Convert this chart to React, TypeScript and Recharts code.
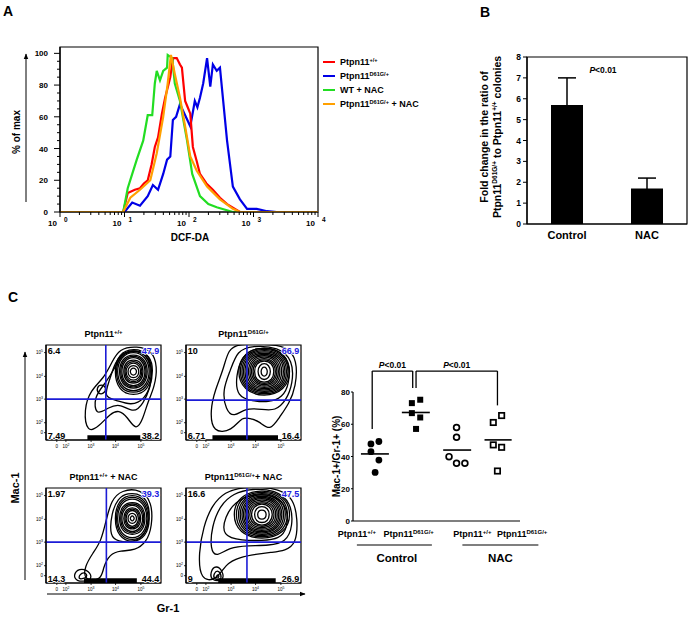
import React from 'react';
import {
  LineChart, Line, XAxis, YAxis, BarChart, Bar, ErrorBar, ScatterChart, Scatter, ComposedChart,
  ReferenceLine, ReferenceArea,
} from 'recharts';

const FONT = '"Liberation Sans", Arial, Helvetica, sans-serif';

// ---------------- Panel A: DCF-DA histogram (x = log10 intensity, y = % of max) ----------------
const histWT: [number, number][] = [
  [0, 0], [0.98, 0], [1.05, 12], [1.16, 14], [1.24, 15], [1.3, 18], [1.36, 20], [1.42, 30], [1.47, 41],
  [1.52, 47], [1.58, 62], [1.63, 72], [1.68, 80], [1.71, 85], [1.75, 97], [1.81, 97], [1.86, 93], [1.89, 91],
  [1.94, 70], [1.98, 66], [2.02, 62], [2.06, 41], [2.12, 32], [2.17, 24], [2.27, 18], [2.37, 14], [2.48, 9],
  [2.59, 5], [2.79, 0], [4, 0],
];
const histD61G: [number, number][] = [
  [0, 0], [1.0, 0], [1.12, 6], [1.24, 4], [1.36, 10], [1.44, 17], [1.52, 14], [1.6, 24], [1.66, 33], [1.71, 35],
  [1.75, 58], [1.8, 60], [1.86, 68], [1.94, 61], [2.02, 54], [2.06, 63], [2.09, 70], [2.13, 66], [2.17, 72],
  [2.22, 81], [2.28, 97], [2.33, 79], [2.37, 93], [2.43, 89], [2.48, 91], [2.53, 70], [2.59, 45], [2.68, 16],
  [2.79, 8], [2.9, 2], [3.05, 2], [3.21, 0.5], [3.36, 0], [4, 0],
];
const histWTNAC: [number, number][] = [
  [0, 0], [0.98, 0], [1.05, 15], [1.12, 24], [1.19, 33], [1.29, 45], [1.36, 61], [1.43, 61], [1.47, 81],
  [1.5, 89], [1.55, 83], [1.6, 89], [1.66, 91], [1.67, 99], [1.74, 97], [1.78, 81], [1.86, 70], [1.97, 45],
  [2.05, 24], [2.17, 10], [2.3, 5], [2.43, 3], [2.68, 0], [4, 0],
];
const histD61GNAC: [number, number][] = [
  [0, 0], [0.98, 0], [1.09, 9], [1.24, 14], [1.4, 20], [1.5, 37], [1.6, 60], [1.67, 81], [1.72, 99],
  [1.78, 87], [1.86, 72], [1.94, 54], [2.02, 35], [2.12, 26], [2.28, 16], [2.48, 8], [2.68, 2], [2.79, 0], [4, 0],
];
const histYTicks = Array.from({ length: 21 }, (_, i) => i * 5);
const histXTicks: number[] = (() => {
  const t: number[] = [];
  for (let d = 0; d < 4; d++) for (let k = 1; k < 10; k++) t.push(d + Math.log10(k));
  t.push(4);
  return t;
})();

const histSeries = [
  { key: 'wt', label: 'Ptpn11', sup: '+/+', tail: '', color: '#ff0000', pts: histWT },
  { key: 'd61g', label: 'Ptpn11', sup: 'D61G/+', tail: '', color: '#0000e6', pts: histD61G },
  { key: 'wtnac', label: 'WT + NAC', sup: '', tail: '', color: '#22dd22', pts: histWTNAC },
  { key: 'd61gnac', label: 'Ptpn11', sup: 'D61G/+', tail: ' + NAC', color: '#ffa000', pts: histD61GNAC },
];
const histDrawOrder = ['d61g', 'wt', 'wtnac', 'd61gnac'];

// ---------------- Panel B: colony ratio ----------------
const bGroups = ['Control', 'NAC'];
const bFold = [5.7, 1.7];
const bErr = [1.3, 0.5];
const bYTicks = [0, 1, 2, 3, 4, 5, 6, 7, 8];
const bData = bGroups.map((g, i) => ({ group: g, fold: bFold[i], err: bErr[i] }));

// ---------------- Panel C: flow contour plots (coordinates in % of the plot box) ----------------
type Ring = [number, number][];
const flowXTicks = [9.4, 17.3, 39.2, 60.5, 82.5];
const flowYTicks = [7.7, 18.2, 43, 67, 92];
const flowTickExp = ['', '2', '3', '4', '5'];

const contoursWT: Ring[] = [
  [[35.8, 7], [32.8, 31.6], [38.7, 52.6], [50.3, 64.9], [57.6, 82.5], [63.4, 96], [79.4, 99], [92.4, 94], [97, 77.2], [94.5, 56.1], [88.1, 38.6], [84.5, 22.8], [78.5, 9], [70.6, 24.6], [63.4, 31.6], [56.1, 28.1], [45.9, 14]],
  [[43, 24.6], [41.6, 45.6], [51.7, 59.6], [60.5, 77.2], [66.3, 91], [79.4, 95], [90.5, 89], [93.5, 73.7], [90.5, 54.4], [84.7, 38.6], [76.5, 27.8], [64.8, 38.4], [54.7, 34.8]],
  [[50, 45], [55, 62], [60, 82], [68, 94], [83, 94], [92, 82], [92, 60], [86, 43], [74, 36], [61, 42]],
  [[76, 97], [89, 92], [93, 72], [89, 52], [76, 46], [63, 52], [59, 72], [63, 91]],
  [[76, 95.5], [88, 90], [92, 72], [88, 54], [76, 48.5], [64, 54], [60, 72], [64, 90]],
  [[76, 94], [87, 88], [91, 72], [87, 56], [76, 50], [65, 56], [61, 72], [65, 88]],
  [[76, 91], [86, 86], [89, 72], [86, 58], [76, 53], [66, 58], [63, 72], [66, 86]],
  [[76, 89.5], [85, 85], [88, 72], [85, 59], [76, 54.5], [67, 59], [64, 72], [67, 85]],
  [[76, 88], [84, 84], [87, 72], [84, 60], [76, 56], [68, 60], [65, 72], [68, 84]],
  [[76, 85], [83, 82], [85, 72], [83, 62], [76, 59], [69, 62], [67, 72], [69, 82]],
  [[76, 83.5], [82, 80.5], [84, 72], [82, 63.5], [76, 60.5], [70, 63.5], [68, 72], [70, 80.5]],
  [[76, 82], [81, 79], [83, 72], [81, 65], [76, 62], [71, 65], [69, 72], [71, 79]],
  [[76, 79], [80, 77], [81, 72], [80, 67], [76, 65], [72, 67], [71, 72], [72, 77]],
  [[76, 76], [78, 75], [79, 72], [78, 69], [76, 68], [74, 69], [73, 72], [74, 75]],
  [[44, 55], [48, 59], [53, 55], [50, 48], [45, 49]],
];
const contoursD61G: Ring[] = [
  [[23, 7], [21, 31.6], [25.3, 52.6], [32.4, 73.7], [36.8, 96], [46, 101], [66.1, 101], [87.2, 99.5], [97, 84.2], [95.5, 56.1], [89.8, 38.6], [81, 23.6], [73.3, 9], [63.2, 20.1], [57.5, 21.8], [48.9, 25.3], [40.2, 9.5]],
  [[34.5, 31.6], [31.6, 52.6], [38.8, 73.7], [44.5, 94], [57.5, 99.5], [80.5, 98], [93, 84.2], [93, 59.6], [87, 41.1], [77.6, 30.6], [66.1, 32.3], [51.7, 34.1], [41.7, 23.6]],
  [[44.5, 45.6], [43.1, 66.7], [48.9, 89], [60.3, 97.5], [80.5, 96], [90, 82.5], [90, 59.6], [84, 44.6], [71.8, 39.4], [57.5, 41.1]],
  [[68, 99], [86, 92], [92, 72], [86, 52], [68, 45], [50, 52], [44, 72], [50, 92]],
  [[68, 97.5], [85, 91], [90.5, 72], [85, 53], [68, 46.5], [51, 53], [45.5, 72], [51, 91]],
  [[68, 96], [84, 90], [89, 72], [84, 54], [68, 48], [52, 54], [47, 72], [52, 90]],
  [[68, 94.5], [83, 89], [87.5, 72], [83, 55], [68, 49.5], [53, 55], [48.5, 72], [53, 89]],
  [[68, 93], [82, 88], [86, 72], [82, 56], [68, 51], [54, 56], [50, 72], [54, 88]],
  [[68, 91.5], [80.5, 87], [84.5, 72], [80.5, 57], [68, 52.5], [55.5, 57], [51.5, 72], [55.5, 87]],
  [[68, 90], [79, 86], [83, 72], [79, 58], [68, 54], [57, 58], [53, 72], [57, 86]],
  [[68, 88.5], [78, 84.5], [81.5, 72], [78, 59.5], [68, 55.5], [58, 59.5], [54.5, 72], [58, 84.5]],
  [[68, 87], [77, 83], [80, 72], [77, 61], [68, 57], [59, 61], [56, 72], [59, 83]],
  [[68, 85.5], [76, 82], [78.5, 72], [76, 62], [68, 58.5], [60, 62], [57.5, 72], [60, 82]],
  [[68, 84], [75, 81], [77, 72], [75, 63], [68, 60], [61, 63], [59, 72], [61, 81]],
  [[68, 81], [72, 79], [74, 72], [72, 65], [68, 63], [64, 65], [62, 72], [64, 79]],
  [[68, 77], [70, 76], [71, 72], [70, 68], [68, 67], [66, 68], [65, 72], [66, 76]],
];
const contoursWTNAC: Ring[] = [
  [[32.8, 2.5], [33.6, 17.5], [40.8, 31.6], [48, 43.9], [52.4, 66.7], [56.8, 87], [65.5, 98], [82.5, 99], [92.3, 85.2], [92.3, 59.6], [87.4, 42.9], [77.7, 34.1], [64.6, 34.1], [55.5, 30.6], [49.7, 16.5], [48.2, 2.5]],
  [[55.4, 48.1], [56.8, 73.7], [62.6, 89], [70.4, 95], [84, 93.5], [90.3, 80.7], [89.4, 61.4], [84.5, 48.1], [73.3, 42.4], [63.2, 43.9]],
  [[75, 94], [87, 88], [91, 68], [87, 48], [75, 42], [63, 48], [59, 68], [63, 88]],
  [[75, 92], [86, 86.5], [90, 68], [86, 49.5], [75, 44], [64, 49.5], [60, 68], [64, 86.5]],
  [[75, 90], [85, 85], [89, 68], [85, 51], [75, 46], [65, 51], [61, 68], [65, 85]],
  [[75, 86], [84, 82], [87, 68], [84, 54], [75, 50], [66, 54], [63, 68], [66, 82]],
  [[75, 84.5], [83, 80.5], [86, 68], [83, 55.5], [75, 51.5], [67, 55.5], [64, 68], [67, 80.5]],
  [[75, 83], [82, 79], [85, 68], [82, 57], [75, 53], [68, 57], [65, 68], [68, 79]],
  [[75, 80], [81, 77], [83, 68], [81, 59], [75, 56], [69, 59], [67, 68], [69, 77]],
  [[75, 78.5], [80, 76], [82, 68], [80, 60], [75, 57.5], [70, 60], [68, 68], [70, 76]],
  [[75, 77], [79, 75], [81, 68], [79, 61], [75, 59], [71, 61], [69, 68], [71, 75]],
  [[75, 74], [78, 72], [79, 68], [78, 64], [75, 62], [72, 64], [71, 68], [72, 72]],
  [[75, 71], [76, 70], [77, 68], [76, 66], [75, 65], [74, 66], [73, 68], [74, 70]],
  [[25, 1], [24, 11], [31, 16], [39, 11], [40, 2]],
  [[28, 3], [29, 9], [34, 12], [37, 6]],
];
const contoursD61GNAC: Ring[] = [
  [[12.3, 2.5], [10.9, 31.6], [15.2, 59.6], [22.4, 81.7], [33.9, 96], [48.9, 101], [74.7, 101], [93, 92.2], [97.3, 66.7], [95.8, 41.1], [86.2, 34.1], [74.7, 32.3], [63.2, 30.6], [46, 27.1], [34.5, 20.1], [26.5, 2.5]],
  [[21, 35.1], [22.4, 59.6], [29.6, 81.7], [41.1, 94.5], [57.5, 99.5], [77.6, 98], [91.5, 85.2], [93, 59.6], [87, 42.9], [71.8, 39.4], [54.6, 39.4], [37.4, 37.6], [26.7, 27.1]],
  [[31, 49.1], [33.9, 70.2], [42.5, 85.2], [57.5, 94], [77.6, 92.5], [88.4, 79.9], [88.4, 57.9], [81.5, 46.4], [66.1, 44.6], [48.9, 44.6]],
  [[66, 99], [86, 92], [92, 72], [86, 52], [66, 45], [46, 52], [40, 72], [46, 92]],
  [[66, 97.5], [84.5, 91], [90, 72], [84.5, 53], [66, 46.5], [47.5, 53], [42, 72], [47.5, 91]],
  [[66, 96], [83, 90], [88, 72], [83, 54], [66, 48], [49, 54], [44, 72], [49, 90]],
  [[66, 94.5], [81.5, 89], [86.5, 72], [81.5, 55], [66, 49.5], [50.5, 55], [45.5, 72], [50.5, 89]],
  [[66, 93], [80, 88], [85, 72], [80, 56], [66, 51], [52, 56], [47, 72], [52, 88]],
  [[66, 91.5], [79, 87], [83.5, 72], [79, 57], [66, 52.5], [53, 57], [48.5, 72], [53, 87]],
  [[66, 90], [78, 86], [82, 72], [78, 58], [66, 54], [54, 58], [50, 72], [54, 86]],
  [[66, 88.5], [77, 84.5], [80.5, 72], [77, 59.5], [66, 55.5], [55, 59.5], [51.5, 72], [55, 84.5]],
  [[66, 87], [76, 83], [79, 72], [76, 61], [66, 57], [56, 61], [53, 72], [56, 83]],
  [[66, 85.5], [74.5, 82], [77.5, 72], [74.5, 62], [66, 58.5], [57.5, 62], [54.5, 72], [57.5, 82]],
  [[66, 84], [73, 81], [76, 72], [73, 63], [66, 60], [59, 63], [56, 72], [59, 81]],
  [[66, 81], [71, 79], [73, 72], [71, 65], [66, 63], [61, 65], [59, 72], [61, 79]],
  [[66, 77], [69, 76], [70, 72], [69, 68], [66, 67], [63, 68], [62, 72], [63, 76]],
  [[22, 2], [21, 12], [26, 19], [32, 13], [33, 2]],
  [[24, 4], [24, 10], [28, 14], [31, 8], [30, 3]],
  [[26, 5], [27, 9], [29, 8], [28, 5]],
];

const flowPanels = [
  { title: 'Ptpn11', sup: '+/+', tail: '', quad: ['6.4', '47.9', '7.49', '38.2'], rings: contoursWT, band: [36, 82], vline: 52, hline: 43 },
  { title: 'Ptpn11', sup: 'D61G/+', tail: '', quad: ['10', '66.9', '6.71', '16.4'], rings: contoursD61G, band: [23, 80], vline: 53, hline: 42 },
  { title: 'Ptpn11', sup: '+/+', tail: ' + NAC', quad: ['1.97', '39.3', '14.3', '44.4'], rings: contoursWTNAC, band: [33, 79], vline: 52.5, hline: 43 },
  { title: 'Ptpn11', sup: 'D61G/+', tail: '+ NAC', quad: ['16.6', '47.5', '9', '26.9'], rings: contoursD61GNAC, band: [28, 78], vline: 53, hline: 43 },
];
// corner anchor of each quadrant percentage (in % of the box)
const quadAnchors = [
  { x: 1.5, y: 98.5, c: 'tl' },
  { x: 98.5, y: 98.5, c: 'tr' },
  { x: 1.5, y: 1.5, c: 'bl' },
  { x: 98.5, y: 1.5, c: 'br' },
];
const flowBoxes = [
  { left: 46, top: 345 },
  { left: 186, top: 345 },
  { left: 46, top: 488 },
  { left: 186, top: 488 },
];

// ---------------- Panel C: Mac-1+/Gr-1+ scatter ----------------
const scatCategories = [
  { name: 'Ptpn11', sup: '+/+' },
  { name: 'Ptpn11', sup: 'D61G/+' },
  { name: 'Ptpn11', sup: '+/+' },
  { name: 'Ptpn11', sup: 'D61G/+' },
];
const scatGroupX = [0.5, 1.5, 2.5, 3.5];
const ctrlWTx = [0.43, 0.62, 0.43, 0.62, 0.53];
const ctrlWTy = [47.8, 49.3, 43, 37.8, 30.1];
const ctrlD61Gx = [1.41, 1.61, 1.41, 1.61, 1.51];
const ctrlD61Gy = [73.1, 75.2, 66.9, 64.2, 57.1];
const nacWTx = [2.48, 2.48, 2.3, 2.48, 2.68];
const nacWTy = [58, 51.9, 39.9, 35.8, 35.8];
const nacD61Gx = [3.56, 3.36, 3.36, 3.56, 3.46];
const nacD61Gy = [65.4, 61.1, 47.2, 45.7, 31];
const groupMeans = [41.6, 67.3, 44, 50.3];
const meanSpans: [number, number][] = [[0.19, 0.86], [1.17, 1.84], [2.16, 2.83], [3.15, 3.8]];
const scatYTicks = [0, 20, 40, 60, 80];
// bracket: [xLeft, xRight, yTop, yLeftEnd, yRightEnd]
const brackets: [number, number, number, number, number][] = [
  [0.46, 1.43, 93, 57, 82.5],
  [1.51, 3.46, 93, 82.5, 71.7],
];
const bracketText = ['P<0.01', 'P<0.01'];
const groupLabels = ['Control', 'NAC'];

const toPts = (xs: number[], ys: number[]) => xs.map((x, i) => ({ x, y: ys[i] }));

// ---------------- helpers ----------------
function Sup({ children }: { children: React.ReactNode }) {
  return <span style={{ fontSize: '0.62em', verticalAlign: '0.55em' }}>{children}</span>;
}

function HistXTick(props: any) {
  const { x, y, payload } = props;
  const v = payload.value;
  const major = Math.abs(v - Math.round(v)) < 1e-6;
  return (
    <g>
      <line x1={x} x2={x} y1={y} y2={y + (major ? 5 : 3)} stroke="#000" strokeWidth={1} />
      {major && (
        <text x={x - 3} y={y + 14} textAnchor="end" fontSize={8} fontWeight="bold" fontFamily={FONT} fill="#000">10</text>
      )}
      {major && (
        <text x={x + 4} y={y + 10} fontSize={6.5} fontWeight="bold" fontFamily={FONT} fill="#000">{Math.round(v)}</text>
      )}
    </g>
  );
}

function HistYTick(props: any) {
  const { x, y, payload } = props;
  const v = payload.value;
  const major = v % 20 === 0;
  return (
    <g>
      <line x1={x} x2={x - (major ? 6 : 3)} y1={y} y2={y} stroke="#000" strokeWidth={1} />
      {major && (
        <text x={x - 12} y={y + 3} textAnchor="end" fontSize={8} fontWeight="bold" fontFamily={FONT} fill="#000">{v}</text>
      )}
    </g>
  );
}

function PanelA() {
  return (
    <div style={{ position: 'absolute', left: 0, top: 0 }}>
      <LineChart width={330} height={250} margin={{ top: 47, right: 12, left: 0, bottom: 8 }}>
        <XAxis
          type="number" dataKey="x" domain={[0, 4]} ticks={histXTicks} interval={0}
          tick={<HistXTick />} tickLine={false} tickSize={0} tickMargin={0} height={30}
          axisLine={{ stroke: '#000', strokeWidth: 1.2 }} allowDataOverflow
        />
        <YAxis
          type="number" dataKey="y" domain={[0, 104]} ticks={histYTicks} interval={0}
          tick={<HistYTick />} tickLine={false} tickSize={0} tickMargin={0} width={60}
          axisLine={{ stroke: '#000', strokeWidth: 1.2 }} allowDataOverflow
        />
        <ReferenceArea y1={0} y2={104} fill="none" stroke="#000" strokeWidth={1.2} />
        {histDrawOrder.map((k) => {
          const s = histSeries.find((q) => q.key === k)!;
          return (
            <Line
              key={k} data={s.pts.map(([x, y]) => ({ x, y }))} dataKey="y" type="linear"
              stroke={s.color} strokeWidth={2.2} dot={false} isAnimationActive={false}
            />
          );
        })}
      </LineChart>
    </div>
  );
}

function BYLabel(props: any) {
  const { viewBox } = props;
  const cy = 137;
  const x1 = viewBox.x + 48;
  const x2 = viewBox.x + 61;
  return (
    <g fontFamily={FONT} fontWeight="bold" fontSize={10.5} fill="#000">
      <text transform={`translate(${x1},${cy}) rotate(-90)`} textAnchor="middle">Fold change in the ratio of</text>
      <text transform={`translate(${x2},${cy}) rotate(-90)`} textAnchor="middle">
        Ptpn11<tspan fontSize={6.5} dy={-4}>D61G/+</tspan><tspan dy={4}> to Ptpn11</tspan><tspan fontSize={6.5} dy={-4}>+/+</tspan><tspan dy={4}> colonies</tspan>
      </text>
    </g>
  );
}

function BYTick(props: any) {
  const { x, y, payload } = props;
  return (
    <g>
      <line x1={x} x2={x - 4} y1={y} y2={y} stroke="#000" strokeWidth={1} />
      <text x={x - 6} y={y + 3} textAnchor="end" fontSize={8.5} fontWeight="bold" fontFamily={FONT} fill="#000">{payload.value}</text>
    </g>
  );
}

function BXTick(props: any) {
  const { x, y, payload } = props;
  return (
    <text x={x} y={y + 15} textAnchor="middle" fontSize={11} fontWeight="bold" fontFamily={FONT} fill="#000">{payload.value}</text>
  );
}

function BPLabel(props: any) {
  const { viewBox } = props;
  return (
    <text x={viewBox.x + viewBox.width / 2 - 4} y={viewBox.y + 16} textAnchor="middle" fontSize={8.5} fontWeight="bold" fontFamily={FONT} fill="#000">
      <tspan fontStyle="italic">P</tspan>&lt;0.01
    </text>
  );
}

function PanelB() {
  return (
    <div style={{ position: 'absolute', left: 440, top: 0 }}>
      <BarChart width={249} height={250} data={bData} margin={{ top: 57, right: 2, left: 0, bottom: 0 }}>
        <XAxis dataKey="group" tick={<BXTick />} tickLine={false} tickSize={0} tickMargin={0} height={26} axisLine={{ stroke: '#000', strokeWidth: 1.2 }} />
        <YAxis
          type="number" domain={[0, 8]} ticks={bYTicks} interval={0} tick={<BYTick />} tickLine={false}
          tickSize={0} tickMargin={0} width={87} axisLine={{ stroke: '#000', strokeWidth: 1.2 }}
          label={{ content: (p: any) => <BYLabel {...p} /> }}
        />
        <ReferenceArea y1={0} y2={8} fill="none" stroke="#000" strokeWidth={1.2} label={{ content: (p: any) => <BPLabel {...p} /> }} />
        <Bar dataKey="fold" fill="#000" barSize={32} isAnimationActive={false}>
          <ErrorBar dataKey="err" width={9} stroke="#000" strokeWidth={1.5} direction="y" />
        </Bar>
      </BarChart>
    </div>
  );
}

function FlowXTick(props: any) {
  const { x, y, index } = props;
  const e = flowTickExp[index];
  return (
    <g fontFamily={FONT} fill="#000">
      <line x1={x} x2={x} y1={y} y2={y + 2} stroke="#000" strokeWidth={0.8} />
      {e ? (
        <text x={x} y={y + 8} textAnchor="middle" fontSize={4.5}>10<tspan fontSize={3.5} dy={-2}>{e}</tspan></text>
      ) : (
        <text x={x} y={y + 8} textAnchor="middle" fontSize={4.5}>0</text>
      )}
    </g>
  );
}

function FlowYTick(props: any) {
  const { x, y, index } = props;
  const e = flowTickExp[index];
  return (
    <g fontFamily={FONT} fill="#000">
      <line x1={x} x2={x - 2} y1={y} y2={y} stroke="#000" strokeWidth={0.8} />
      {e ? (
        <text x={x - 3} y={y + 1.5} textAnchor="end" fontSize={4.5}>10<tspan fontSize={3.5} dy={-2}>{e}</tspan></text>
      ) : (
        <text x={x - 3} y={y + 1.5} textAnchor="end" fontSize={4.5}>0</text>
      )}
    </g>
  );
}

function QuadText(props: any) {
  const { cx, cy, payload } = props;
  const right = payload.c === 'tr' || payload.c === 'br';
  const top = payload.c === 'tl' || payload.c === 'tr';
  return (
    <text x={cx} y={top ? cy + 7.5 : cy} textAnchor={right ? 'end' : 'start'} fontSize={9} fontFamily={FONT} fontWeight="bold"
      fill={payload.c === 'tr' ? '#2020e0' : '#000'} stroke="#fff" strokeWidth={1.6} paintOrder="stroke"
      strokeLinejoin="round">{payload.text}</text>
  );
}

function FlowTitle(props: any) {
  const { viewBox, title, sup, tail } = props;
  return (
    <text x={viewBox.x + viewBox.width / 2} y={viewBox.y - 8} textAnchor="middle" fontSize={9} fontWeight="bold" fontFamily={FONT} fill="#000">
      {title}<tspan fontSize={6} dy={-3}>{sup}</tspan><tspan dy={3}>{tail}</tspan>
    </text>
  );
}

function FlowPanel({ idx }: { idx: number }) {
  const p = flowPanels[idx];
  const b = flowBoxes[idx];
  const bw = 115;
  const bh = 95;
  const quadData = quadAnchors.map((a, i) => ({ x: a.x, y: a.y, c: a.c, text: p.quad[i] }));
  return (
    <div style={{ position: 'absolute', left: b.left - 22, top: b.top - 20 }}>
      <ComposedChart width={bw + 30} height={bh + 35} margin={{ top: 20, right: 8, left: 0, bottom: 0 }}>
        <XAxis type="number" dataKey="x" domain={[0, 100]} ticks={flowXTicks} interval={0} tick={<FlowXTick />}
          tickLine={false} tickSize={0} tickMargin={0} height={15} axisLine={{ stroke: '#000', strokeWidth: 1.2 }} allowDataOverflow />
        <YAxis type="number" dataKey="y" domain={[0, 100]} ticks={flowYTicks} interval={0} tick={<FlowYTick />}
          tickLine={false} tickSize={0} tickMargin={0} width={22} axisLine={{ stroke: '#000', strokeWidth: 1.2 }} allowDataOverflow />
        <ReferenceArea x1={0} x2={100} y1={0} y2={100} fill="#fff" stroke="#000" strokeWidth={1.2}
          label={{ content: (lp: any) => <FlowTitle {...lp} title={p.title} sup={p.sup} tail={p.tail} /> }} />
        <ReferenceArea x1={p.band[0]} x2={p.band[1]} y1={0} y2={5} fill="#000" fillOpacity={1} stroke="none" />
        {p.rings.map((r, i) => (
          <Line key={i} data={r.map(([x, y]) => ({ x, y }))} dataKey="y" type="basisClosed"
            stroke="#000" strokeWidth={1.3} dot={false} isAnimationActive={false} />
        ))}
        <ReferenceLine x={p.vline} stroke="#1c1cd6" strokeWidth={1.6} />
        <ReferenceLine y={p.hline} stroke="#1c1cd6" strokeWidth={1.6} />
        <Scatter data={quadData} shape={(sp: any) => <QuadText {...sp} />} isAnimationActive={false} />
      </ComposedChart>
    </div>
  );
}

const catLabelShift = [-17, -7, 15, 23];

function ScatXTick(props: any) {
  const { x, y, index } = props;
  const c = scatCategories[index];
  const groupIdx = index === 0 ? 0 : index === 2 ? 1 : -1;
  const ul = index === 0 ? [-17, 58, 23] : [5, 81, 43];
  return (
    <g fontFamily={FONT} fontWeight="bold" fill="#000">
      <text x={x + catLabelShift[index]} y={y + 16} textAnchor="middle" fontSize={9}>
        {c.name}<tspan fontSize={6} dy={-3}>{c.sup}</tspan>
      </text>
      {groupIdx >= 0 && (
        <g>
          <line x1={x + ul[0]} x2={x + ul[1]} y1={y + 24} y2={y + 24} stroke="#000" strokeWidth={1.2} />
          <text x={x + ul[2]} y={y + 41} textAnchor="middle" fontSize={11.5}>{groupLabels[groupIdx]}</text>
        </g>
      )}
    </g>
  );
}

function ScatYTick(props: any) {
  const { x, y, payload } = props;
  return (
    <g>
      <line x1={x} x2={x - 2} y1={y} y2={y} stroke="#000" strokeWidth={1} />
      <text x={x - 3} y={y + 3} textAnchor="end" fontSize={8} fontWeight="bold" fontFamily={FONT} fill="#000">{payload.value}</text>
    </g>
  );
}

function ScatYLabel(props: any) {
  const { viewBox } = props;
  const cy = viewBox.y + viewBox.height / 2;
  return (
    <text transform={`translate(${viewBox.x + 10},${cy}) rotate(-90)`} textAnchor="middle" fontSize={10} fontWeight="bold" fontFamily={FONT} fill="#000">
      Mac-1+/Gr-1+ (%)
    </text>
  );
}

function PLabel(props: any) {
  const { viewBox, text } = props;
  return (
    <text x={viewBox.x + viewBox.width / 2} y={viewBox.y - 3} textAnchor="middle" fontSize={8.5} fontWeight="bold" fontFamily={FONT} fill="#000">
      <tspan fontStyle="italic">{text.slice(0, 1)}</tspan>{text.slice(1)}
    </text>
  );
}

function Marker(props: any) {
  const { cx, cy, kind, filled } = props;
  const fill = filled ? '#000' : '#fff';
  if (kind === 'circle') {
    return <circle cx={cx} cy={cy} r={filled ? 3.4 : 2.9} fill={fill} stroke="#000" strokeWidth={filled ? 0 : 1.7} />;
  }
  const h = filled ? 3 : 2.7;
  return <rect x={cx - h} y={cy - h} width={2 * h} height={2 * h} fill={fill} stroke="#000" strokeWidth={filled ? 0 : 1.7} />;
}

function ScatterPanel() {
  return (
    <div style={{ position: 'absolute', left: 330, top: 355 }}>
      <ScatterChart width={240} height={215} margin={{ top: 37, right: 50, left: 0, bottom: 0 }}>
        <XAxis type="number" dataKey="x" domain={[0, 4]} ticks={scatGroupX} interval={0} tick={<ScatXTick />}
          tickLine={false} tickSize={0} tickMargin={0} height={49} axisLine={{ stroke: '#000', strokeWidth: 1.2 }} allowDataOverflow />
        <YAxis type="number" dataKey="y" domain={[0, 80]} ticks={scatYTicks} interval={0} tick={<ScatYTick />}
          tickLine={false} tickSize={0} tickMargin={0} width={23} axisLine={{ stroke: '#000', strokeWidth: 1.2 }}
          label={{ content: (p: any) => <ScatYLabel {...p} /> }} allowDataOverflow />
        <Scatter data={toPts(ctrlWTx, ctrlWTy)} shape={(p: any) => <Marker {...p} kind="circle" filled />} isAnimationActive={false} />
        <Scatter data={toPts(ctrlD61Gx, ctrlD61Gy)} shape={(p: any) => <Marker {...p} kind="square" filled />} isAnimationActive={false} />
        <Scatter data={toPts(nacWTx, nacWTy)} shape={(p: any) => <Marker {...p} kind="circle" />} isAnimationActive={false} />
        <Scatter data={toPts(nacD61Gx, nacD61Gy)} shape={(p: any) => <Marker {...p} kind="square" />} isAnimationActive={false} />
        {groupMeans.map((m, i) => (
          <ReferenceLine key={`m${i}`} segment={[{ x: meanSpans[i][0], y: m }, { x: meanSpans[i][1], y: m }]} stroke="#000" strokeWidth={1.6} />
        ))}
        {brackets.map((br, i) => [
          <ReferenceLine key={`bl${i}`} segment={[{ x: br[0], y: br[2] }, { x: br[0], y: br[3] }]} stroke="#000" strokeWidth={1.3} ifOverflow="visible" />,
          <ReferenceLine key={`br${i}`} segment={[{ x: br[1], y: br[2] }, { x: br[1], y: br[4] }]} stroke="#000" strokeWidth={1.3} ifOverflow="visible" />,
          <ReferenceLine key={`bt${i}`} segment={[{ x: br[0], y: br[2] }, { x: br[1], y: br[2] }]} stroke="#000" strokeWidth={1.3} ifOverflow="visible"
            label={{ content: (p: any) => <PLabel {...p} text={bracketText[i]} /> }} />,
        ])}
      </ScatterChart>
    </div>
  );
}

function Arrow({ x1, y1, x2, y2 }: { x1: number; y1: number; x2: number; y2: number }) {
  return (
    <g>
      <defs>
        <marker id="ah" viewBox="0 0 10 10" refX="9" refY="5" markerWidth="6" markerHeight="6" orient="auto">
          <path d="M0,1 L10,5 L0,9 z" fill="#000" />
        </marker>
      </defs>
      <line x1={x1} y1={y1} x2={x2} y2={y2} stroke="#000" strokeWidth={1} markerEnd="url(#ah)" />
    </g>
  );
}

const letterStyle: React.CSSProperties = { position: 'absolute', fontFamily: FONT, fontWeight: 'bold', fontSize: 14, lineHeight: '14px', color: '#000' };

export default function App() {
  return (
    <div style={{ position: 'absolute', left: 0, top: 0, width: 689, height: 622, background: '#fff', overflow: 'hidden', fontFamily: FONT }}>
      <div style={{ ...letterStyle, left: 3, top: 4 }}>A</div>
      <div style={{ ...letterStyle, left: 480, top: 5 }}>B</div>
      <div style={{ ...letterStyle, left: 8, top: 290 }}>C</div>

      <PanelA />
      <svg style={{ position: 'absolute', left: 0, top: 0 }} width={689} height={622}>
        <text transform="translate(20,132) rotate(-90)" textAnchor="middle" fontSize={10} fontWeight="bold" fontFamily={FONT}>% of max</text>
        <Arrow x1={26} y1={202} x2={26} y2={54} />
        <text x={190} y={241} textAnchor="middle" fontSize={10} fontWeight="bold" fontFamily={FONT}>DCF-DA</text>
        <text transform="translate(19,488) rotate(-90)" textAnchor="middle" fontSize={11} fontWeight="bold" fontFamily={FONT}>Mac-1</text>
        <Arrow x1={25} y1={580} x2={25} y2={352} />
        <Arrow x1={47} y1={594} x2={305} y2={594} />
        <text x={168} y={612} textAnchor="middle" fontSize={11} fontWeight="bold" fontFamily={FONT}>Gr-1</text>
      </svg>

      <div style={{ position: 'absolute', left: 323, top: 55, fontFamily: FONT, fontWeight: 'bold', fontSize: 9, color: '#000' }}>
        {histSeries.map((s) => (
          <div key={s.key} style={{ display: 'flex', alignItems: 'center', height: 14 }}>
            <div style={{ width: 12, height: 2.5, background: s.color, marginRight: 5 }} />
            <span>{s.label}{s.sup && <Sup>{s.sup}</Sup>}{s.tail}</span>
          </div>
        ))}
      </div>

      <PanelB />
      {flowPanels.map((_, i) => <FlowPanel key={i} idx={i} />)}
      <ScatterPanel />
    </div>
  );
}
